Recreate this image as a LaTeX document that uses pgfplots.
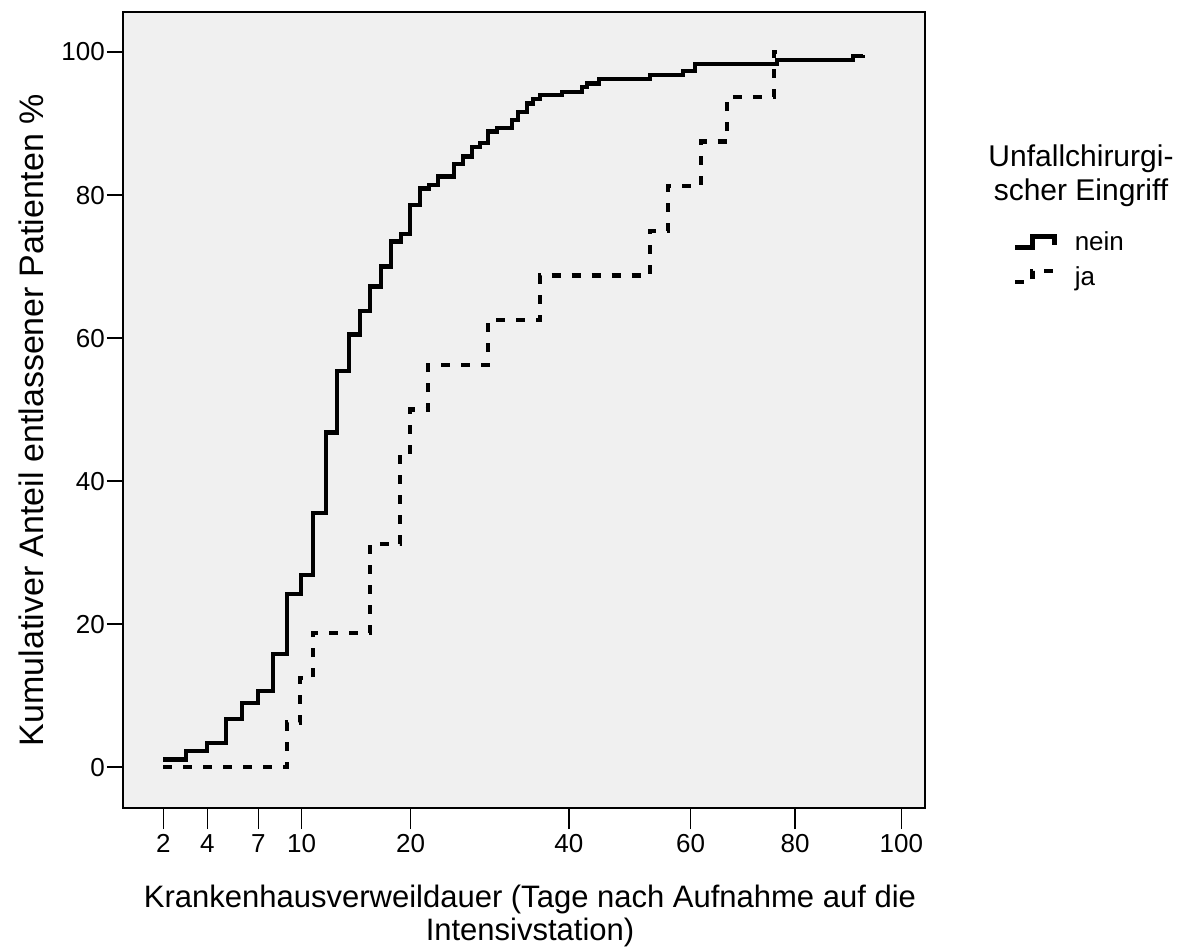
\documentclass[border=0pt]{standalone}
\usepackage{fontspec}
\setmainfont{Liberation Sans}
\usepackage{pgfplots}
\pgfplotsset{compat=1.18}
\definecolor{plotbg}{HTML}{F0F0F0}

% Discharge curves: x in layout units of the categorical day axis, y in percent
\pgfplotstableread{
x      y
163.3  1.1
186.0  2.3
206.7  3.4
225.7  6.7
242.3  9.0
257.7  10.7
272.7  15.8
286.7  24.2
300.7  26.9
313.3  35.5
325.7  46.8
337.3  55.4
349.0  60.5
360.0  63.8
370.3  67.2
380.7  70.0
390.7  73.5
400.7  74.6
410.0  78.6
420.0  80.9
429.0  81.4
437.7  82.6
454.3  84.3
463.3  85.4
471.7  86.7
480.0  87.3
488.3  88.9
496.7  89.4
511.7  90.5
518.3  91.6
526.7  92.8
533.3  93.4
540.0  94.0
561.7  94.4
581.7  95.1
587.0  95.6
599.0  96.2
650.0  96.8
683.3  97.3
695.0  98.3
776.7  98.9
853.3  99.4
863.3  99.6
}\nein

\pgfplotstableread{
x      y
163.3  0
286.7  6.25
300.0  12.5
313.3  18.75
370.0  31.25
400.0  43.75
410.0  50.0
428.3  56.25
487.7  62.5
540.0  68.75
650.0  75.0
667.7  81.25
701.0  87.5
727.3  93.75
774.0  100
777.0  100
}\ja

\begin{document}
\begin{tikzpicture}[x=1pt,y=1pt]
\useasboundingbox (-123,-139) rectangle (1062,808);
\begin{axis}[
  at={(0,0)}, anchor=south west,
  width=802pt, height=796pt, scale only axis,
  xmin=123, xmax=925, ymin=-5.7, ymax=105.6,
  axis background/.style={fill=plotbg},
  axis line style={line width=1.5pt},
  xtick={163.3,207.3,258.3,301.7,410.6,568.8,690.6,795.2,901.4},
  xticklabels={2,4,7,10,20,40,60,80,100},
  ytick={0,20,40,60,80,100},
  tick align=outside, tick pos=left,
  major tick length=16pt,
  xtick style={/pgfplots/major tick length=21pt},
  tick style={line width=1.5pt, black},
  ticklabel style={font=\fontsize{26}{31}\selectfont},
  xticklabel style={yshift=-7pt},
  yticklabel style={inner sep=2pt},
  /pgf/number format/assume math mode=true,
  legend style={draw=none, fill=none, at={(1.1097,0.7263)}, anchor=north west,
    inner sep=0pt, row sep=10pt, cells={anchor=west},
    /tikz/every odd column/.append style={column sep=16pt},
    font=\fontsize{26}{31}\selectfont},
  legend image code/.code={
    \draw[#1, line width=4.6pt] (0pt,-5.5pt) -- (17pt,-5.5pt) -- (17pt,5.5pt) -- (39pt,5.5pt) -- (39pt,-3pt);
  },
]
\addplot[const plot, black, line width=4.3pt, line join=miter] table {\nein};
\addlegendentry{nein}
\addplot[const plot, black, line width=4.3pt, line join=miter, dash pattern=on 9pt off 11pt] table {\ja};
\addlegendentry{ja}
\end{axis}

% axis titles and legend heading
\node[anchor=base, font=\fontsize{31}{37}\selectfont] at (407,-99) {Krankenhausverweildauer (Tage nach Aufnahme auf die};
\node[anchor=base, font=\fontsize{31}{37}\selectfont] at (407,-132) {Intensivstation)};
\node[anchor=base, rotate=90, font=\fontsize{34}{40}\selectfont] at (-79,388) {Kumulativer Anteil entlassener Patienten \%};
\node[anchor=base, font=\fontsize{30}{36}\selectfont] at (958,641.3) {Unfallchirurgi-};
\node[anchor=base, font=\fontsize{30}{36}\selectfont] at (958,607) {scher Eingriff};
\end{tikzpicture}
\end{document}
